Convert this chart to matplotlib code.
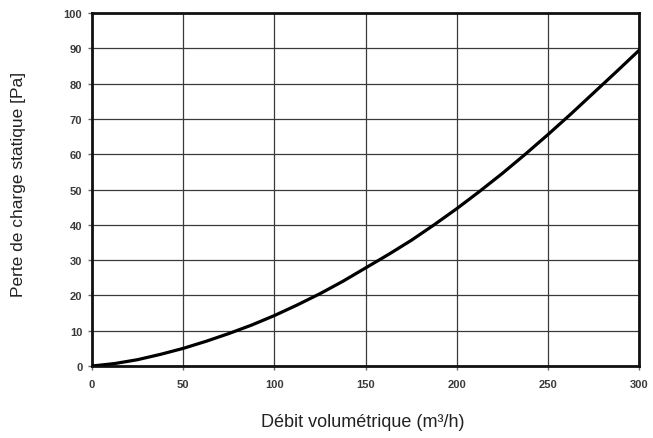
import matplotlib
matplotlib.use("Agg")
import matplotlib.pyplot as plt

flow = [0, 12.5, 25, 37.5, 50, 62.5, 75, 87.5, 100, 112.5, 125, 137.5, 150,
        162.5, 175, 187.5, 200, 212.5, 225, 237.5, 250, 262.5, 275, 287.5, 300]
pressure = [0, 0.7, 1.8, 3.3, 5.0, 7.0, 9.2, 11.6, 14.3, 17.3, 20.5, 24.0, 27.8,
            31.6, 35.6, 40.0, 44.6, 49.5, 54.6, 60.0, 65.6, 71.4, 77.4, 83.4, 89.5]
xticks = [0, 50, 100, 150, 200, 250, 300]
yticks = [0, 10, 20, 30, 40, 50, 60, 70, 80, 90, 100]

fig = plt.figure(figsize=(6.53, 4.39), dpi=100)
ax = fig.add_axes([0.141, 0.164, 0.838, 0.804])
ax.plot(flow, pressure, color="black", lw=2.3, solid_capstyle="round", zorder=3)
ax.set_xlim(0, 300)
ax.set_ylim(0, 100)
ax.set_xticks(xticks)
ax.set_yticks(yticks)
ax.grid(True, color="#3a3a3a", lw=0.9)
for s in ax.spines.values():
    s.set_linewidth(2.0)
    s.set_color("#111111")
ax.tick_params(axis="both", length=3, width=1, color="#666666",
               labelsize=8, labelcolor="#3a3a3a")
for lab in ax.get_xticklabels() + ax.get_yticklabels():
    lab.set_fontweight("bold")
    lab.set_family("Liberation Sans")
ax.tick_params(axis="x", pad=6)
ax.tick_params(axis="y", pad=4)
fig.text(0.556, 0.018, "Débit volumétrique (m³/h)", ha="center", va="bottom",
         fontsize=13, color="#222222", family="Liberation Sans")
fig.text(0.029, 0.58, "Perte de charge statique [Pa]", ha="center", va="center",
         rotation=90, fontsize=12.5, color="#222222", family="Liberation Sans")
fig.savefig("out.png", dpi=100)
